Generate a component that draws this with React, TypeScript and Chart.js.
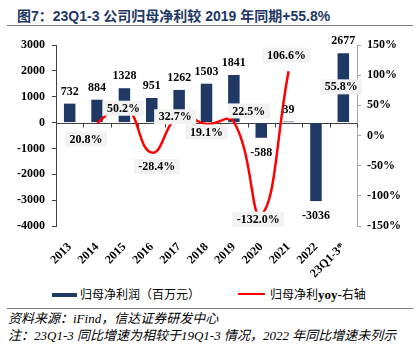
import React, { useEffect, useRef } from "react";
import { Chart, registerables } from "chart.js";
Chart.register(...registerables);

const categories = ["2013", "2014", "2015", "2016", "2017", "2018", "2019", "2020", "2021", "2022", "23Q1-3*"];
const profit = [732, 884, 1328, 951, 1262, 1503, 1841, -588, 39, -3036, 2677];
const yoy: (number | null)[] = [null, 20.8, 50.2, -28.4, 32.7, 19.1, 22.5, -132.0, 106.6, null, 55.8];
const leftMin = -4000;
const leftMax = 3000;
const leftStep = 1000;
const rightMin = -150;
const rightMax = 150;
const rightStep = 50;

// label placement relative to each yoy point (layout only)
const yoyLabelShift: [number, number][] = [
  [0, 0], [-11, 16], [-1, 3], [5, 14], [-4, 1], [0, 8], [15, -11], [-3, 4], [-2, -16], [0, 0], [-2, -15],
];

const SERIF = "'Liberation Serif', 'Times New Roman', serif";
const NAVY = "#1F3864";

const overlay = {
  id: "overlay",
  beforeDatasetsDraw(chart: any) {
    const { ctx, chartArea, scales } = chart;
    const y0 = Math.round(scales.y.getPixelForValue(0)) + 0.5;
    const n = categories.length;
    const w = (chartArea.right - chartArea.left) / n;
    ctx.save();
    ctx.strokeStyle = "#404040";
    ctx.lineWidth = 1;
    ctx.beginPath();
    ctx.moveTo(chartArea.left, y0);
    ctx.lineTo(chartArea.right, y0);
    for (let i = 0; i <= n; i++) {
      const x = Math.round(chartArea.left + i * w) + 0.5;
      ctx.moveTo(x, y0);
      ctx.lineTo(x, y0 + 4);
    }
    ctx.stroke();
    ctx.restore();
  },
  afterDatasetsDraw(chart: any) {
    const { ctx } = chart;
    ctx.save();
    ctx.font = `bold 12px ${SERIF}`;
    ctx.textAlign = "center";
    ctx.textBaseline = "middle";
    ctx.fillStyle = "#000";
    const bars = chart.getDatasetMeta(0).data;
    bars.forEach((el: any, i: number) => {
      const v = profit[i];
      const y = v >= 0 ? el.y - 12 : el.y + 15;
      ctx.fillText(String(v), el.x, y);
    });
    const pts = chart.getDatasetMeta(1).data;
    pts.forEach((el: any, i: number) => {
      const v = yoy[i];
      if (v === null || v === undefined) return;
      const txt = v.toFixed(1) + "%";
      const [dx, dy] = yoyLabelShift[i];
      const cx = el.x + dx;
      const cy = el.y + dy;
      const tw = ctx.measureText(txt).width + 9;
      ctx.fillStyle = "#F2F2F2";
      ctx.fillRect(cx - tw / 2, cy - 7.5, tw, 15);
      ctx.fillStyle = "#000";
      ctx.fillText(txt, cx, cy + 0.5);
    });
    ctx.restore();
  },
};

function ChartCanvas() {
  const ref = useRef<HTMLCanvasElement | null>(null);
  useEffect(() => {
    if (!ref.current) return;
    const chart = new Chart(ref.current, {
      type: "bar",
      data: {
        labels: categories,
        datasets: [
          {
            type: "bar",
            label: "归母净利润（百万元）",
            data: profit,
            backgroundColor: NAVY,
            yAxisID: "y",
            categoryPercentage: 1,
            barPercentage: 0.42,
            order: 2,
          },
          {
            type: "line",
            label: "归母净利yoy-右轴",
            data: yoy,
            borderColor: "#FF0000",
            backgroundColor: "#FF0000",
            borderWidth: 2.5,
            pointRadius: 0,
            tension: 0.45,
            spanGaps: false,
            yAxisID: "y1",
            order: 1,
          },
        ],
      } as any,
      options: {
        responsive: false,
        animation: false,
        layout: { padding: { top: 45, left: 0, right: 0, bottom: 0 } },
        plugins: { legend: { display: false }, tooltip: { enabled: false } },
        scales: {
          x: {
            grid: { display: false },
            border: { display: false },
            ticks: {
              autoSkip: false,
              maxRotation: 45,
              minRotation: 45,
              padding: 6,
              color: "#000",
              font: { family: SERIF, size: 12, weight: "bold" },
            },
            afterFit(scale: any) {
              scale.height = 59;
            },
          },
          y: {
            position: "left",
            min: leftMin,
            max: leftMax,
            ticks: {
              stepSize: leftStep,
              padding: 7,
              color: "#000",
              font: { family: SERIF, size: 12, weight: "bold" },
              callback: (v: any) => String(v),
            },
            grid: { drawOnChartArea: false, drawTicks: true, tickLength: 4, color: "#404040" },
            border: { display: true, color: "#404040" },
            afterFit(scale: any) {
              scale.width = 56;
            },
          },
          y1: {
            position: "right",
            min: rightMin,
            max: rightMax,
            ticks: {
              stepSize: rightStep,
              padding: 6,
              color: "#000",
              font: { family: SERIF, size: 12, weight: "bold" },
              callback: (v: any) => v + "%",
            },
            grid: { drawOnChartArea: false, drawTicks: true, tickLength: 4, color: "#A6A6A6" },
            border: { display: true, color: "#A6A6A6" },
            afterFit(scale: any) {
              scale.width = 61;
            },
          },
        },
      } as any,
      plugins: [overlay],
    });
    return () => chart.destroy();
  }, []);
  return <canvas ref={ref} width={418} height={285} style={{ position: "absolute", left: 0, top: 0, width: 418, height: 285 }} />;
}

export default function App() {
  const cjk = "'Noto Sans CJK SC', 'Liberation Sans', sans-serif";
  return (
    <div style={{ position: "absolute", left: 0, top: 0, width: 418, height: 355, background: "#fff", overflow: "hidden" }}>
      <div
        style={{
          position: "absolute",
          left: 17,
          top: 8,
          height: 16,
          lineHeight: "16px",
          fontSize: 14,
          fontWeight: "bold",
          fontFamily: `'Liberation Sans', ${cjk}`,
          color: NAVY,
          whiteSpace: "nowrap",
        }}
      >
        图7：23Q1-3 公司归母净利较 2019 年同期+55.8%
      </div>
      <div style={{ position: "absolute", left: 7, top: 24.5, width: 406, height: 1.5, background: "#7F7F7F" }} />
      <ChartCanvas />
      <div style={{ position: "absolute", left: 52, top: 292.5, width: 25, height: 4, background: NAVY }} />
      <div
        style={{ position: "absolute", left: 80, top: 287, lineHeight: "14px", fontSize: 12, fontFamily: cjk, color: "#000", whiteSpace: "nowrap" }}
      >
        归母净利润（百万元）
      </div>
      <div style={{ position: "absolute", left: 238, top: 293, width: 27, height: 2, background: "#FF0000" }} />
      <div
        style={{ position: "absolute", left: 270, top: 287, lineHeight: "14px", fontSize: 12, fontFamily: cjk, color: "#000", whiteSpace: "nowrap" }}
      >
        归母净利<span style={{ fontFamily: SERIF, fontWeight: "bold", fontSize: 13 }}>yoy-</span>右轴
      </div>
      <div style={{ position: "absolute", left: 7, top: 307.5, width: 406, height: 1.5, background: "#7F7F7F" }} />
      <div
        style={{
          position: "absolute",
          left: 8,
          top: 311,
          lineHeight: "15px",
          fontSize: 13,
          fontStyle: "italic",
          fontFamily: `${SERIF.replace(", serif", "")}, ${cjk}`,
          color: "#000",
          whiteSpace: "nowrap",
        }}
      >
        资料来源：iFind，信达证券研发中心
      </div>
      <div
        style={{
          position: "absolute",
          left: 8,
          top: 328,
          lineHeight: "15px",
          fontSize: 13,
          fontStyle: "italic",
          fontFamily: `${SERIF.replace(", serif", "")}, ${cjk}`,
          color: "#000",
          whiteSpace: "nowrap",
        }}
      >
        注：23Q1-3 同比增速为相较于19Q1-3 情况，2022 年同比增速未列示
      </div>
    </div>
  );
}
